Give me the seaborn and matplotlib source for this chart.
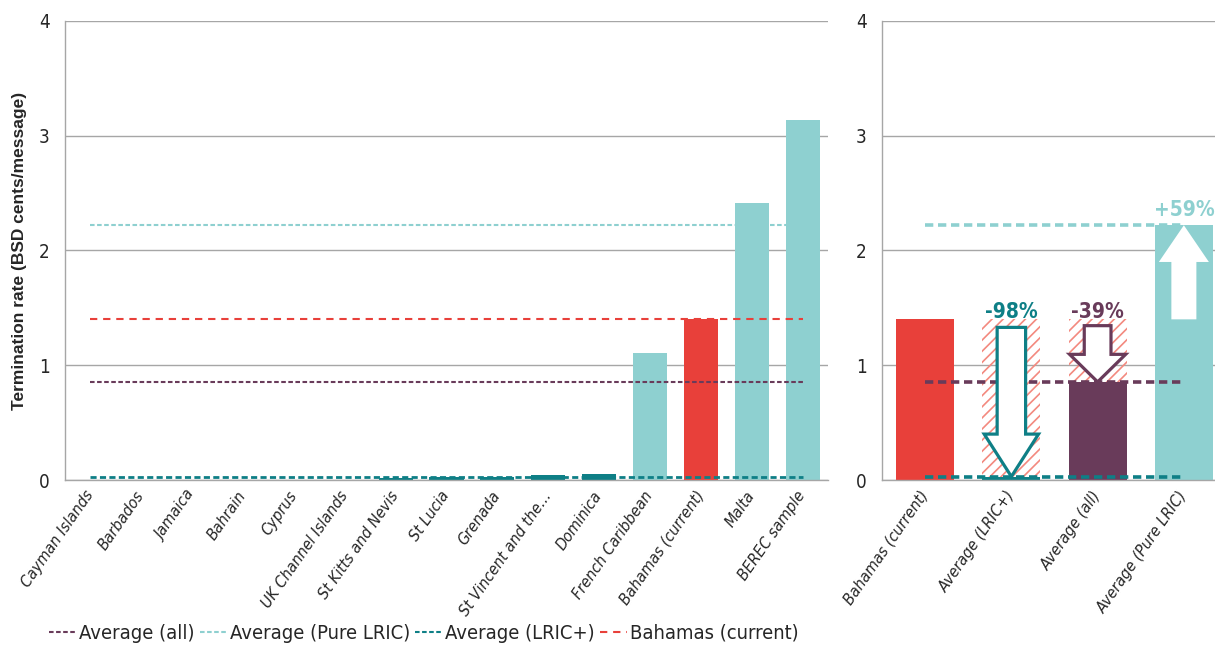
import numpy as np
import pandas as pd
import matplotlib
matplotlib.use('Agg')
import matplotlib.pyplot as plt
import seaborn as sns
from matplotlib import font_manager
from matplotlib.patches import FancyArrow
from matplotlib.lines import Line2D

# benchmark rates (BSD cents per message)
countries = ['Cayman Islands', 'Barbados', 'Jamaica', 'Bahrain', 'Cyprus',
             'UK Channel Islands', 'St Kitts and Nevis', 'St Lucia', 'Grenada',
             'St Vincent and the\u2026', 'Dominica', 'French Caribbean',
             'Bahamas (current)', 'Malta', 'BEREC sample']
rates = [0.0, 0.0, 0.0, 0.0, 0.0, 0.0, 0.02, 0.022, 0.028, 0.045, 0.055,
         1.11, 1.40, 2.41, 3.14]
groups = ['LRIC+'] * 11 + ['Pure LRIC', 'Bahamas', 'Pure LRIC', 'Pure LRIC']

avg_all = 0.855
avg_pure = 2.22
avg_lric = 0.03
bahamas = 1.40

summary_labels = ['Bahamas (current)', 'Average (LRIC+)', 'Average (all)', 'Average (Pure LRIC)']
summary_values = [bahamas, avg_lric, avg_all, avg_pure]

RED = '#E8403A'
PURPLE = '#693B5A'
LIGHT = '#8ED0D0'
DARK = '#0E7F86'
HATCH = '#F3897F'
GRID = '#A6A6A6'

sns.set_style('white')

# look for a narrow sans (the original uses Arial Narrow)
fonts = font_manager.fontManager.ttflist
names = {f.name for f in fonts}
narrow_family, narrow_stretch = None, 'normal'
if 'Liberation Sans Narrow' in names:
    narrow_family = 'Liberation Sans Narrow'
else:
    for fam in ['Liberation Sans', 'DejaVu Sans', 'Noto Sans', 'Roboto', 'Open Sans', 'Lato']:
        if any(f.name == fam and f.stretch in ('condensed', 'semi-condensed', 'extra-condensed', 'ultra-condensed')
               for f in fonts):
            narrow_family, narrow_stretch = fam, 'condensed'
            break
if narrow_family:
    plt.rcParams['font.family'] = [narrow_family, 'DejaVu Sans']
    plt.rcParams['font.stretch'] = narrow_stretch
    scale = 1.0
else:
    plt.rcParams['font.family'] = ['Liberation Sans', 'DejaVu Sans']
    scale = 0.93
plt.rcParams['hatch.linewidth'] = 1.2

group_colors = {'LRIC+': DARK, 'Pure LRIC': LIGHT, 'Bahamas': RED}
summary_colors = [RED, DARK, PURPLE, LIGHT]

fig = plt.figure(figsize=(12.15, 6.47), dpi=100)
ax1 = fig.add_axes([65 / 1215, 167 / 647, 763 / 1215, 459 / 647])
ax2 = fig.add_axes([882 / 1215, 167 / 647, 345 / 1215, 459 / 647])


def style_axis(ax, labels):
    ax.set_ylim(0, 4)
    ax.set_xlim(-0.5, len(labels) - 0.5)
    ax.set_yticks(range(5))
    ax.yaxis.grid(True, color=GRID, lw=1)
    ax.xaxis.grid(False)
    ax.set_axisbelow(True)
    for s in ['top', 'right']:
        ax.spines[s].set_visible(False)
    for s in ['left', 'bottom']:
        ax.spines[s].set_color(GRID)
        ax.spines[s].set_linewidth(1)
    ax.set_xticks(np.arange(len(labels)))
    ax.set_xticklabels(labels, rotation=55, ha='right', va='center',
                       rotation_mode='anchor', fontstyle='italic', fontsize=11.5)
    ax.set_xticks(np.arange(len(labels) + 1) - 0.5, minor=True)
    ax.tick_params(axis='x', which='major', length=0, pad=9)
    ax.tick_params(axis='x', which='minor', length=5, color=GRID, width=1)
    ax.tick_params(axis='y', length=5, color=GRID, width=1, labelsize=13.5, pad=6)
    ax.set_xlabel('')
    ax.set_ylabel('')


# left panel: individual benchmarks
df = pd.DataFrame({'country': countries, 'rate': rates, 'group': groups})
sns.barplot(data=df, x='country', y='rate', hue='group', palette=group_colors,
            dodge=False, width=0.67, saturation=1, legend=False, linewidth=0,
            ax=ax1, zorder=2)

thin = [(avg_all, PURPLE, (2.2, 1.2)), (avg_pure, LIGHT, (2.2, 1.2)),
        (avg_lric, DARK, (2.2, 1.2)), (bahamas, RED, (3.5, 2.8))]
for val, col, dash in thin:
    lw = 2.0 if col == DARK else 1.5
    ax1.plot([0, len(countries) - 1], [val, val], color=col, lw=lw, dashes=dash, zorder=3)

style_axis(ax1, countries)
ax1.set_ylabel('Termination rate (BSD cents/message)', fontsize=12.5,
               fontweight='bold', family='Liberation Sans', fontstretch='normal')
ax1.yaxis.set_label_coords(-0.05, 0.5)

# right panel: averages compared with the current rate
sdf = pd.DataFrame({'label': summary_labels, 'value': summary_values})
sns.barplot(data=sdf, x='label', y='value', hue='label', palette=summary_colors,
            width=0.67, saturation=1, legend=False, linewidth=0, ax=ax2, zorder=2)

for i, v in enumerate(summary_values):
    if v < bahamas:
        ax2.bar(i, bahamas - v, bottom=v, width=0.67, facecolor='none',
                edgecolor=HATCH, hatch='///', linewidth=0, zorder=2)

for val, col in [(avg_pure, LIGHT), (avg_all, PURPLE), (avg_lric, DARK)]:
    ax2.plot([0, len(summary_labels) - 1], [val, val], color=col, lw=2.6,
             dashes=(2.3, 1.3), zorder=3)

# arrows: (index, start offset, shaft width, head width, head length, edge colour)
arrow_specs = [(1, 0.07, 0.33, 0.63, 0.37, DARK),
               (2, 0.055, 0.31, 0.65, 0.24, PURPLE),
               (3, 0.0, 0.29, 0.58, 0.32, None)]
for i, off, w, hw, hl, ec in arrow_specs:
    v = summary_values[i]
    start = bahamas - off if v < bahamas else bahamas
    arr = FancyArrow(i, start, 0, v - start, width=w, head_width=hw, head_length=hl,
                     length_includes_head=True, facecolor='white',
                     edgecolor=ec if ec else 'white', linewidth=2.3 if ec else 0,
                     joinstyle='miter', zorder=4)
    ax2.add_patch(arr)
    txt_col = ec if ec else LIGHT
    y_txt = v + 0.08 if v > bahamas else bahamas + 0.015
    ax2.text(i, y_txt, f'{(v / bahamas - 1) * 100:+.0f}%',
             ha='center', va='baseline', fontsize=15, fontweight='bold',
             color=txt_col, zorder=5)

style_axis(ax2, summary_labels)

handles = [Line2D([], [], color=PURPLE, lw=1.5, dashes=(2.2, 1.2)),
           Line2D([], [], color=LIGHT, lw=1.5, dashes=(2.2, 1.2)),
           Line2D([], [], color=DARK, lw=1.5, dashes=(2.2, 1.2)),
           Line2D([], [], color=RED, lw=1.5, dashes=(3.5, 2.8))]
fig.legend(handles, ['Average (all)', 'Average (Pure LRIC)', 'Average (LRIC+)', 'Bahamas (current)'],
           loc='lower center', bbox_to_anchor=(424 / 1215, 0.0), ncol=4, frameon=False,
           fontsize=14.5 * scale, handlelength=1.35, handletextpad=0.15, columnspacing=0.25,
           borderaxespad=0.1, borderpad=0.1)

fig.savefig('out.png', dpi=100)
